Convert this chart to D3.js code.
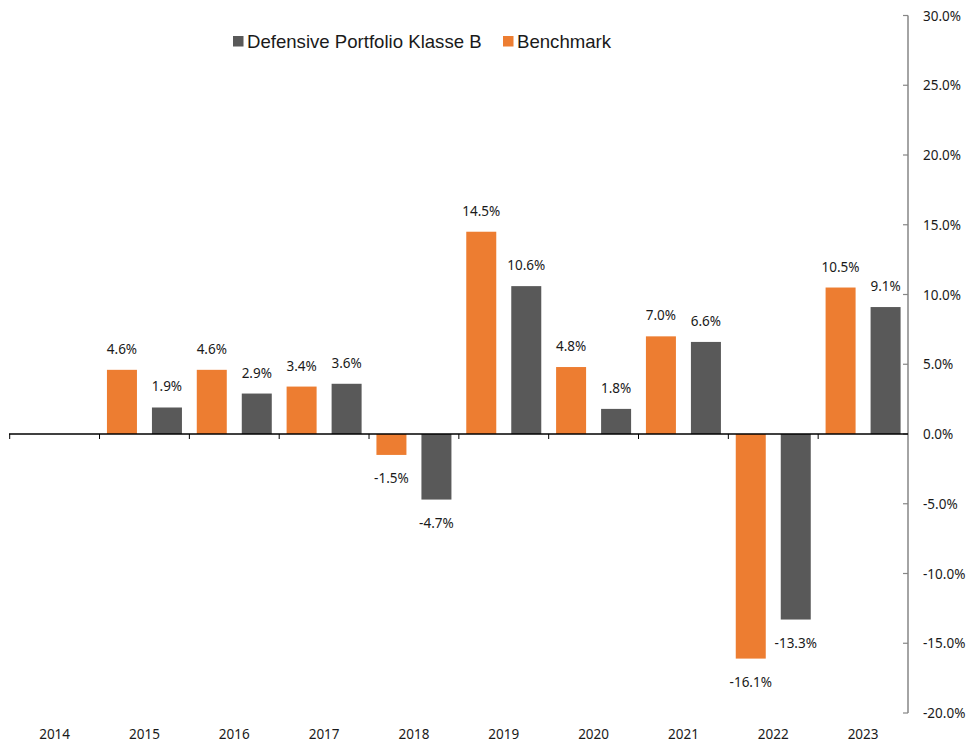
<!DOCTYPE html>
<html>
<head>
<meta charset="utf-8">
<script src="https://cdn.jsdelivr.net/npm/d3@7"></script>
<style>
  body { margin: 0; background: #fff; }
  svg { display: block; }
</style>
</head>
<body>
<div id="chart"></div>
<script>
const years = ['2014', '2015', '2016', '2017', '2018', '2019', '2020', '2021', '2022', '2023']
const benchmark = [null, 4.6, 4.6, 3.4, -1.5, 14.5, 4.8, 7.0, -16.1, 10.5]
const portfolio = [null, 1.9, 2.9, 3.6, -4.7, 10.6, 1.8, 6.6, -13.3, 9.1]
const yTicks = [30, 25, 20, 15, 10, 5, 0, -5, -10, -15, -20]

const seriesNames = ['Defensive Portfolio Klasse B', 'Benchmark']
const colors = { benchmark: '#ED7D31', portfolio: '#595959' }

const width = 969, height = 747
const svg = d3.select('#chart').append('svg')
  .attr('width', width)
  .attr('height', height)

const x = d3.scaleBand().domain(years).range([9.7, 908]).padding(0)
const y = d3.scaleLinear().domain([-20, 30]).range([713, 15.5])

const labelFont = '"Noto Sans", sans-serif'

// right axis
svg.append('line')
  .attr('x1', 908).attr('x2', 908)
  .attr('y1', y(30)).attr('y2', y(-20))
  .attr('stroke', '#868686').attr('stroke-width', 1.5)

yTicks.forEach(t => {
  svg.append('line')
    .attr('x1', 903).attr('x2', 908)
    .attr('y1', y(t)).attr('y2', y(t))
    .attr('stroke', '#868686').attr('stroke-width', 1.2)
  svg.append('text')
    .attr('x', 923).attr('y', y(t) + 5)
    .attr('font-family', labelFont).attr('font-size', 13.5)
    .attr('fill', '#1a1a1a')
    .text(t.toFixed(1) + '%')
})

// bars
let bars = []
years.forEach((yr, i) => {
  let c = x(yr) + x.bandwidth() / 2
  if (benchmark[i] != null) bars.push({ cx: c - 22.5, v: benchmark[i], color: colors.benchmark })
  if (portfolio[i] != null) bars.push({ cx: c + 22.5, v: portfolio[i], color: colors.portfolio })
})

svg.append('g').selectAll('rect')
  .data(bars)
  .enter()
  .append('rect')
  .attr('x', d => d.cx - 15)
  .attr('width', 30)
  .attr('y', d => Math.min(y(d.v), y(0)))
  .attr('height', d => Math.abs(y(d.v) - y(0)))
  .attr('fill', d => d.color)

svg.append('g').selectAll('text')
  .data(bars)
  .enter()
  .append('text')
  .attr('x', d => d.cx)
  .attr('y', d => d.v >= 0 ? y(d.v) - 16 : y(d.v) + 28)
  .attr('text-anchor', 'middle')
  .attr('font-family', labelFont).attr('font-size', 13.5)
  .attr('fill', '#1a1a1a')
  .text(d => d.v.toFixed(1) + '%')

// x axis at zero
svg.append('line')
  .attr('x1', 9).attr('x2', 908)
  .attr('y1', y(0)).attr('y2', y(0))
  .attr('stroke', '#000').attr('stroke-width', 1.3)

years.forEach(yr => {
  svg.append('line')
    .attr('x1', x(yr)).attr('x2', x(yr))
    .attr('y1', y(0)).attr('y2', y(0) + 5)
    .attr('stroke', '#000').attr('stroke-width', 1)
  svg.append('text')
    .attr('x', x(yr) + x.bandwidth() / 2)
    .attr('y', 739)
    .attr('text-anchor', 'middle')
    .attr('font-family', labelFont).attr('font-size', 13.5)
    .attr('fill', '#1a1a1a')
    .text(yr)
})

// legend
const legendItems = [
  { name: seriesNames[0], color: colors.portfolio, x: 233 },
  { name: seriesNames[1], color: colors.benchmark, x: 503 }
]
let legend = svg.append('g').selectAll('g')
  .data(legendItems)
  .enter()
  .append('g')

legend.append('rect')
  .attr('x', d => d.x).attr('y', 36)
  .attr('width', 10.5).attr('height', 10.5)
  .attr('fill', d => d.color)

legend.append('text')
  .attr('x', d => d.x + 14).attr('y', 47.5)
  .attr('font-family', '"Liberation Sans", Arial, sans-serif')
  .attr('font-size', 18.6)
  .attr('fill', '#1a1a1a')
  .text(d => d.name)
</script>
</body>
</html>
